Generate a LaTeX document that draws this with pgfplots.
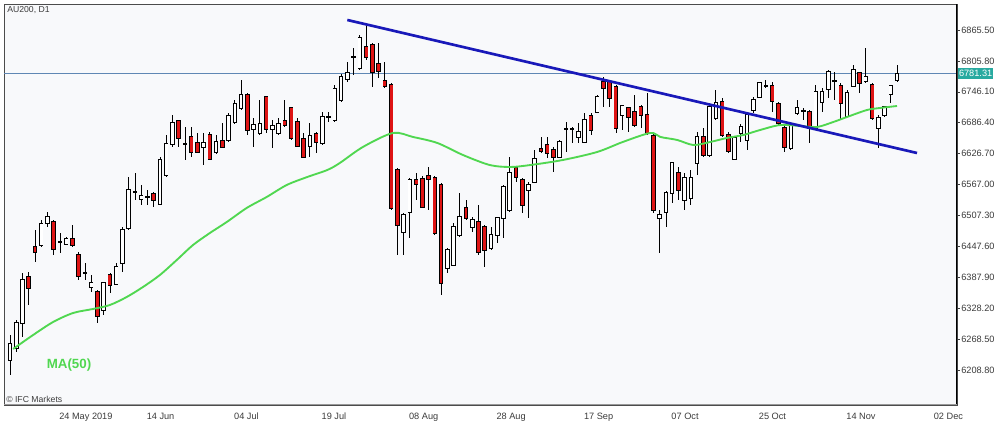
\documentclass[border=0pt]{standalone}
\usepackage{pgfplots}
\pgfplotsset{compat=1.18}
\usepackage{pgfplotstable}
\usepackage{fontspec}
\setmainfont{Liberation Sans}

\definecolor{bgc}{RGB}{248,249,251}
\definecolor{bear}{RGB}{222,20,20}
\definecolor{magreen}{RGB}{80,215,80}
\definecolor{trend}{RGB}{25,25,185}
\definecolor{pline}{RGB}{95,135,180}
\definecolor{tagc}{RGB}{40,170,160}
\definecolor{labgray}{RGB}{60,60,60}

% AU200 daily candles: bar index, open, high, low, close
\pgfplotstableread{
i o h l c
0 6228.1 6276.4 6199.1 6259.1
1 6251.4 6305.4 6243.6 6299.6
2 6299.6 6396.2 6272.6 6382.7
3 6388.5 6398.1 6334.4 6367.3
4 6446.4 6479.2 6417.4 6436.7
5 6450.2 6498.5 6446.4 6490.8
6 6492.7 6514.0 6485.0 6504.4
7 6494.6 6498.5 6430.9 6442.5
8 6456.0 6473.4 6434.8 6456.0
9 6452.2 6465.7 6450.2 6461.8
10 6461.8 6488.9 6446.4 6450.2
11 6430.9 6436.7 6382.7 6390.4
12 6396.2 6415.5 6382.7 6396.2
13 6369.2 6392.3 6359.5 6376.9
14 6359.5 6363.4 6299.6 6313.1
15 6324.7 6378.8 6315.0 6376.9
16 6392.3 6396.2 6357.6 6373.0
17 6375.0 6415.5 6373.0 6407.8
18 6415.5 6485.0 6398.1 6479.2
19 6483.1 6581.6 6479.2 6556.5
20 6552.6 6589.3 6537.2 6552.6
21 6539.1 6566.1 6527.5 6544.9
22 6543.0 6556.5 6527.5 6543.0
23 6548.8 6552.6 6523.7 6537.2
24 6529.5 6620.2 6527.5 6614.4
25 6585.4 6662.7 6581.6 6645.4
26 6645.4 6701.3 6639.6 6685.9
27 6689.8 6691.7 6639.6 6657.0
28 6645.4 6678.2 6614.4 6645.4
29 6658.9 6678.2 6620.2 6629.9
30 6647.3 6666.6 6627.9 6629.9
31 6639.6 6666.6 6604.7 6647.3
32 6662.7 6668.5 6614.4 6616.3
33 6629.9 6662.7 6626.0 6649.2
34 6651.2 6685.9 6637.7 6639.6
35 6653.1 6705.2 6649.2 6699.4
36 6687.8 6730.3 6684.0 6722.6
37 6714.9 6768.9 6711.0 6739.9
38 6739.9 6743.8 6662.7 6672.4
39 6674.3 6695.6 6639.6 6682.0
40 6666.6 6730.3 6662.7 6684.0
41 6736.1 6738.0 6666.6 6674.3
42 6674.3 6691.7 6637.7 6680.1
43 6666.6 6695.6 6662.7 6684.0
44 6689.8 6730.3 6678.2 6682.0
45 6714.9 6716.8 6653.1 6657.0
46 6687.8 6695.6 6639.6 6641.5
47 6655.0 6666.6 6618.3 6620.2
48 6641.5 6685.9 6620.2 6660.8
49 6664.7 6668.5 6627.9 6649.2
50 6647.3 6707.1 6643.4 6697.5
51 6697.5 6707.1 6687.8 6697.5
52 6691.7 6759.2 6687.8 6751.5
53 6730.3 6780.5 6726.4 6774.7
54 6770.8 6803.7 6765.0 6782.4
55 6813.4 6830.8 6778.5 6813.4
56 6792.2 6855.8 6788.2 6850.1
57 6832.7 6873.2 6807.6 6813.4
58 6836.5 6840.4 6755.4 6784.4
59 6799.9 6840.4 6772.8 6786.3
60 6767.0 6803.7 6753.4 6757.3
61 6759.2 6763.1 6517.9 6521.8
62 6595.1 6599.0 6430.9 6488.9
63 6475.3 6512.1 6430.9 6508.2
64 6514.0 6579.7 6463.8 6575.8
65 6575.8 6589.3 6537.2 6568.1
66 6577.7 6583.5 6521.8 6523.7
67 6583.5 6600.9 6517.9 6577.7
68 6579.7 6583.5 6469.5 6473.4
69 6566.1 6570.0 6353.7 6376.9
70 6405.9 6444.5 6396.2 6440.6
71 6411.6 6492.7 6409.7 6485.0
72 6469.5 6550.7 6465.7 6504.4
73 6521.8 6537.2 6498.5 6502.4
74 6485.0 6504.4 6475.3 6498.5
75 6494.6 6527.5 6430.9 6436.7
76 6485.0 6488.9 6407.8 6440.6
77 6444.5 6485.0 6440.6 6469.5
78 6469.5 6504.4 6454.1 6502.4
79 6502.4 6566.1 6463.8 6562.3
80 6517.9 6620.2 6514.0 6589.3
81 6599.0 6600.9 6571.9 6581.6
82 6575.8 6579.7 6512.1 6527.5
83 6556.5 6571.9 6502.4 6566.1
84 6571.9 6633.7 6570.0 6616.3
85 6635.7 6658.9 6627.9 6631.8
86 6643.4 6658.9 6618.3 6627.9
87 6633.7 6639.6 6591.2 6620.2
88 6620.2 6653.1 6618.3 6649.2
89 6674.3 6687.8 6629.9 6674.3
90 6674.3 6678.2 6647.3 6674.3
91 6658.9 6685.9 6647.3 6668.5
92 6649.2 6705.2 6647.3 6691.7
93 6699.4 6705.2 6662.7 6672.4
94 6707.1 6739.9 6705.2 6736.1
95 6765.0 6774.7 6716.8 6753.4
96 6765.0 6768.9 6716.8 6734.2
97 6755.4 6759.2 6666.6 6676.3
98 6701.3 6720.6 6672.4 6718.7
99 6714.9 6716.8 6668.5 6697.5
100 6707.1 6739.9 6678.2 6682.0
101 6716.8 6720.6 6676.3 6701.3
102 6701.3 6743.8 6662.7 6666.6
103 6660.8 6666.6 6512.1 6517.9
104 6502.4 6517.9 6434.8 6508.2
105 6514.0 6554.6 6485.0 6550.7
106 6550.7 6608.6 6531.4 6608.6
107 6589.3 6600.9 6537.2 6556.5
108 6537.2 6589.3 6517.9 6579.7
109 6541.1 6595.1 6527.5 6579.7
110 6608.6 6668.5 6585.4 6658.9
111 6658.9 6676.3 6620.2 6624.1
112 6624.1 6720.6 6620.2 6716.8
113 6695.6 6749.6 6691.7 6724.5
114 6726.4 6734.2 6658.9 6662.7
115 6662.7 6668.5 6627.9 6631.8
116 6616.3 6658.9 6614.4 6657.0
117 6666.6 6684.0 6649.2 6678.2
118 6653.1 6705.2 6633.7 6701.3
119 6711.0 6736.1 6705.2 6730.3
120 6736.1 6765.0 6734.2 6763.1
121 6757.3 6768.9 6753.4 6757.3
122 6757.3 6765.0 6707.1 6728.4
123 6722.6 6726.4 6682.0 6685.9
124 6676.3 6682.0 6629.9 6639.6
125 6637.7 6685.9 6633.7 6682.0
126 6705.2 6730.3 6701.3 6714.9
127 6709.1 6714.9 6691.7 6709.1
128 6707.1 6711.0 6647.3 6676.3
129 6676.3 6759.2 6672.4 6745.7
130 6726.4 6753.4 6707.1 6745.7
131 6751.5 6788.2 6734.2 6784.4
132 6767.0 6784.4 6730.3 6767.0
133 6757.3 6763.1 6691.7 6724.5
134 6699.4 6749.6 6697.5 6743.8
135 6757.3 6797.9 6755.4 6788.2
136 6782.4 6784.4 6743.8 6763.1
137 6767.0 6830.8 6763.1 6774.7
138 6759.2 6763.1 6691.7 6695.6
139 6676.3 6701.3 6637.7 6695.6
140 6701.3 6716.8 6697.5 6716.8
141 6741.9 6759.2 6724.5 6757.3
142 6768.9 6797.9 6765.0 6781.3
}\candles

\begin{document}
\begin{tikzpicture}
\path[use as bounding box, fill=white] (0,0) rectangle (750pt,318.75pt);

\begin{axis}[
  at={(3pt,15pt)}, anchor=south west,
  scale only axis,
  width=714.75pt, height=300.75pt,
  xmin=-0.96, xmax=151.6,
  ymin=6141.2, ymax=6915.7,
  axis background/.style={fill=bgc},
  axis line style={draw=gray!60!black, line width=0.5pt},
  xtick pos=bottom, ytick pos=right,
  yticklabel pos=right,
  tick align=outside,
  major tick length=2pt,
  x tick style={draw=none},
  y tick style={draw=labgray, line width=0.4pt},
  ytick={6208.8,6268.5,6328.2,6387.9,6447.6,6507.3,6567.0,6626.7,6686.4,6746.1,6805.8,6865.5},
  xtick={7.85,21.85,35.85,49.85,63.85,77.85,91.85,105.85,119.85,133.85,147.85},
  xticklabels={24 May 2019,14 Jun,04 Jul,19 Jul,08 Aug,28 Aug,17 Sep,07 Oct,25 Oct,14 Nov,02 Dec},
  tick label style={font=\fontsize{6.9}{8}\selectfont, text=labgray},
  yticklabel style={anchor=west, inner sep=1pt,
    /pgf/number format/.cd, fixed, fixed zerofill, precision=2, 1000 sep={}, assume math mode=true},
  xticklabel style={anchor=north west, inner sep=0pt, yshift=-4pt},
]

% last price line
\addplot[pline, line width=0.5pt, forget plot] coordinates {(-0.96,6781.31) (151.6,6781.31)};

% wicks
\addplot[draw=none, mark=none, forget plot,
  error bars/.cd, y dir=both, y explicit, error mark=none,
  error bar style={draw=black, solid, line width=0.6pt}]
  table[x=i, y=o, y error plus expr=\thisrow{h}-\thisrow{o}, y error minus expr=\thisrow{o}-\thisrow{l}] {\candles};

% body outlines
\addplot[draw=none, mark=none, forget plot,
  error bars/.cd, y dir=both, y explicit, error mark=none,
  error bar style={draw=black, solid, line width=3.4pt}]
  table[x=i, y expr=(\thisrow{o}+\thisrow{c})/2, y error expr=abs(\thisrow{c}-\thisrow{o})/2+1.5] {\candles};

% bull bodies
\addplot[draw=none, mark=none, forget plot,
  restrict expr to domain={\thisrow{c}-\thisrow{o}}{0.5:10000},
  error bars/.cd, y dir=both, y explicit, error mark=none,
  error bar style={draw=white, solid, line width=2.0pt}]
  table[x=i, y expr=(\thisrow{o}+\thisrow{c})/2, y error expr=abs(\thisrow{c}-\thisrow{o})/2] {\candles};

% bear bodies
\addplot[draw=none, mark=none, forget plot,
  restrict expr to domain={\thisrow{c}-\thisrow{o}}{-10000:-0.5},
  error bars/.cd, y dir=both, y explicit, error mark=none,
  error bar style={draw=bear, solid, line width=2.2pt}]
  table[x=i, y expr=(\thisrow{o}+\thisrow{c})/2, y error expr=abs(\thisrow{c}-\thisrow{o})/2] {\candles};

% MA(50)
\addplot[magreen, line width=1.4pt, smooth, mark=none] coordinates {
(0.5,6249.4) (3.7,6276.4) (6.9,6301.5) (10.1,6318.9) (13.3,6326.7) (16.0,6334.4)
(18.7,6349.9) (21.3,6369.2) (24.0,6392.3) (26.7,6421.3) (29.3,6450.2) (32.0,6473.4)
(34.7,6494.6) (37.9,6521.8) (41.1,6543.0) (44.3,6566.1) (47.6,6581.6) (50.8,6595.1)
(52.8,6608.6) (56.5,6639.6) (61.3,6666.6) (64.5,6658.9) (68.4,6647.3) (72.5,6624.1)
(76.8,6604.7) (80.1,6600.9) (83.3,6604.7) (88.5,6614.4) (94.0,6629.9) (98.1,6649.2)
(102.5,6666.6) (104.1,6658.9) (106.8,6653.1) (109.4,6643.4) (112.1,6649.2) (114.8,6657.0)
(117.4,6662.7) (120.1,6672.4) (123.3,6682.0) (126.5,6680.1) (129.2,6678.2) (131.8,6687.8)
(134.0,6697.5) (137.2,6711.0) (139.3,6714.9) (142.0,6718.7)
};

% trend line
\addplot[trend, line width=2pt, mark=none] coordinates {(54.0,6884.8) (145.2,6627.9)};

\draw[black, line width=1.5pt] (rel axis cs:1,0) -- (rel axis cs:1,1);
\draw[gray!80, line width=1.2pt] (rel axis cs:0,0) -- (rel axis cs:1,0);
\coordinate (tag) at (axis cs:151.6,6781.31);
\end{axis}

\node[fill=tagc, text=white, anchor=west, inner sep=0.8pt, minimum height=8pt,
  font=\fontsize{6.9}{8}\selectfont] at ([xshift=0.5pt]tag) {6781.31};

\begin{scope}[x=0.75pt, y=-0.75pt, shift={(0pt,318.75pt)}]
  \node[anchor=west, inner sep=0pt, text=labgray, font=\fontsize{6.5}{8}\selectfont] at (7,10) {AU200, D1};
  \node[anchor=west, inner sep=0pt, text=labgray, font=\fontsize{6.5}{8}\selectfont] at (6,399) {© IFC Markets};
  \node[anchor=center, inner sep=0pt, text=magreen, font=\fontsize{10}{12}\selectfont\bfseries] at (69,365) {MA(50)};
\end{scope}
\end{tikzpicture}
\end{document}
